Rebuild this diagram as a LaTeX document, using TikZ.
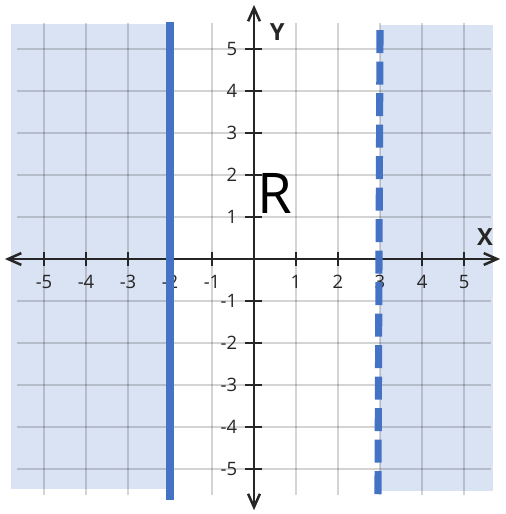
\documentclass[tikz,border=0pt]{standalone}
\usepackage{fontspec}
\setmainfont{Open Sans}
\usetikzlibrary{arrows.meta}
\definecolor{shadeblue}{RGB}{218,227,243}
\definecolor{lineblue}{RGB}{68,114,196}
\definecolor{axisgray}{RGB}{38,38,38}

\begin{document}
\begin{tikzpicture}[>={Straight Barb[length=9pt,width=8pt]},
    gridline/.style={black, opacity=0.17, line width=1.4pt},
    axisline/.style={axisgray, line width=1.7pt},
    tickline/.style={axisgray, line width=1.2pt},
    ticklabel/.style={font=\fontsize{12.5}{14}\selectfont, text=axisgray, inner sep=1pt},
    axislabel/.style={font=\bfseries\fontsize{16}{18}\selectfont, text=axisgray},
    boundary/.style={lineblue, line width=4.8pt}]

\useasboundingbox (-6.048,-6.071) rectangle (5.976,6.167);

% ==================== SHADED REGIONS ====================
\fill[shadeblue] (-5.79,-5.48) rectangle (-2,5.6);
\fill[shadeblue] (3,-5.52) rectangle (5.69,5.57);

% ==================== GRID ====================
\foreach \k in {-5,...,5} {
    \draw[gridline] (-5.64,\k) -- (5.64,\k);
    \draw[gridline] (\k,-5.62) -- (\k,5.62);
}

% ==================== AXES ====================
\draw[axisline, <->] (-5.93,0) -- (5.86,0);
\draw[axisline, <->] (0,-5.98) -- (0,6.05);
\node[axislabel] (xlabel) at (5.5,0.52) {X};
\node[axislabel] (ylabel) at (0.55,5.4) {Y};

% Ticks and labels
\foreach \k in {-5,...,-1,1,2,...,5} {
    \draw[tickline] (\k,-0.17) -- (\k,0.17);
    \draw[tickline] (-0.21,\k) -- (0.19,\k);
    \node[ticklabel] (xt\k) at (\k,-0.55) {\k};
    \node[ticklabel, anchor=east] (yt\k) at (-0.36,\k) {\k};
}

% ==================== BOUNDARY LINES ====================
% x = -2 (solid)
\draw[boundary] (-2,5.64) -- (-2,-5.74);
% x = 3 (dashed)
\draw[boundary, dash pattern=on 0.55cm off 0.2cm] (3.0,5.45) -- (2.95,-5.79);

% Region label
\node[font=\fontsize{38}{40}\selectfont, text=black] (region) at (0.5,1.55) {R};

\end{tikzpicture}
\end{document}
